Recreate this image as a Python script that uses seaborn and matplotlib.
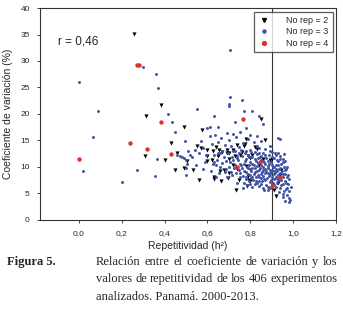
import numpy as np
import pandas as pd
import seaborn as sns
from matplotlib import pyplot as plt
from matplotlib.ticker import FuncFormatter
from matplotlib.lines import Line2D

#===== DATA =====================================
# Repetitividad (h2), Coeficiente de variacion (%)
rep2 = [(0.256, 35.1), (0.385, 21.6), (0.315, 19.6), (0.31, 12.0), (0.40, 11.3),
        (0.43, 14.4), (0.457, 12.6), (0.45, 9.4), (0.49, 17.6), (0.49, 9.7),
        (0.507, 11.0), (0.535, 9.3), (0.55, 13.9), (0.56, 7.5), (0.57, 13.5),
        (0.575, 16.9), (0.60, 13.2), (0.60, 12.1), (0.60, 11.0), (0.62, 11.2),
        (0.625, 13.0), (0.63, 8.0), (0.63, 7.7), (0.64, 13.8), (0.65, 12.0),
        (0.655, 13.2), (0.66, 9.1), (0.665, 7.3), (0.67, 12.7), (0.675, 9.3),
        (0.69, 13.2), (0.69, 12.6), (0.695, 7.9), (0.70, 12.6), (0.70, 11.5),
        (0.70, 8.9), (0.72, 13.2), (0.72, 10.3), (0.73, 12.1), (0.735, 5.6),
        (0.74, 14.1), (0.74, 9.6), (0.745, 7.5), (0.75, 12.2), (0.76, 12.7),
        (0.77, 13.9), (0.775, 14.2), (0.78, 15.3), (0.78, 10.2), (0.79, 8.2),
        (0.79, 12.0), (0.795, 7.4), (0.80, 7.2), (0.80, 11.6), (0.785, 6.3),
        (0.81, 12.2), (0.82, 13.7), (0.83, 13.3), (0.84, 10.3), (0.85, 19.0),
        (0.86, 11.4), (0.87, 15.1), (0.89, 11.3), (0.90, 11.5), (0.91, 5.5),
        (0.92, 4.4), (0.93, 6.9), (0.94, 8.4), (0.945, 9.4)]

rep3 = [(0.00, 26.1), (0.018, 9.1), (0.068, 15.6), (0.09, 20.5), (0.20, 7.1),
        (0.27, 9.4), (0.30, 28.8), (0.36, 27.6), (0.37, 24.8), (0.357, 8.2),
        (0.364, 11.4), (0.417, 19.9), (0.434, 18.4), (0.45, 16.5), (0.496, 14.9),
        (0.46, 12.2), (0.47, 12.0), (0.48, 11.8), (0.49, 11.6), (0.50, 11.2),
        (0.505, 10.6), (0.50, 9.8), (0.50, 8.4), (0.51, 12.9), (0.52, 12.3),
        (0.53, 11.8), (0.54, 13.2), (0.545, 10.4), (0.55, 21.0), (0.56, 12.6),
        (0.57, 14.8), (0.58, 13.6), (0.58, 9.6), (0.59, 10.9), (0.595, 12.2),
        (0.60, 17.3), (0.61, 17.6), (0.61, 15.8), (0.615, 9.1), (0.62, 14.3),
        (0.625, 10.5), (0.63, 19.6), (0.63, 12.2), (0.635, 16.0), (0.64, 10.3),
        (0.645, 11.3), (0.65, 17.5), (0.65, 14.6), (0.655, 8.9), (0.66, 12.6),
        (0.665, 15.4), (0.67, 10.7), (0.675, 11.8), (0.68, 14.1), (0.685, 9.6),
        (0.69, 16.4), (0.70, 21.9), (0.70, 21.4), (0.705, 23.2), (0.705, 32.0),
        (0.70, 15.0), (0.705, 10.9), (0.71, 13.9), (0.715, 8.4), (0.72, 16.2),
        (0.72, 11.2), (0.725, 9.8), (0.73, 18.4), (0.73, 12.9), (0.735, 15.7),
        (0.74, 7.0), (0.74, 11.6), (0.745, 13.7), (0.75, 16.5), (0.75, 8.8),
        (0.755, 10.4), (0.76, 22.7), (0.76, 12.0), (0.765, 14.5), (0.765, 6.0),
        (0.77, 20.5), (0.77, 9.2), (0.775, 11.1), (0.78, 17.4), (0.78, 13.0),
        (0.78, 7.6), (0.785, 10.0), (0.79, 15.2), (0.79, 8.6), (0.795, 11.8),
        (0.80, 16.0), (0.80, 9.5), (0.80, 6.7), (0.805, 12.8), (0.81, 20.5),
        (0.81, 10.6), (0.81, 8.0), (0.815, 14.6), (0.82, 9.0), (0.82, 11.4),
        (0.825, 7.2), (0.83, 15.8), (0.83, 10.1), (0.83, 12.4), (0.835, 8.5),
        (0.84, 19.6), (0.84, 13.5), (0.84, 9.4), (0.84, 6.4), (0.845, 11.8),
        (0.85, 7.8), (0.85, 10.4), (0.85, 14.8), (0.855, 9.0), (0.86, 18.0),
        (0.86, 12.6), (0.86, 8.3), (0.86, 6.0), (0.865, 10.9), (0.87, 9.6),
        (0.87, 7.4), (0.87, 13.4), (0.875, 11.6), (0.88, 8.8), (0.88, 10.2),
        (0.88, 5.6), (0.885, 12.2), (0.89, 7.1), (0.89, 9.3), (0.89, 14.0),
        (0.895, 10.8), (0.90, 8.1), (0.90, 12.8), (0.90, 6.8), (0.905, 9.9),
        (0.91, 11.6), (0.91, 7.6), (0.915, 8.8), (0.92, 12.3), (0.92, 10.4),
        (0.92, 6.2), (0.925, 9.2), (0.93, 15.5), (0.93, 11.0), (0.93, 7.4),
        (0.935, 5.2), (0.94, 15.3), (0.94, 9.8), (0.94, 12.0), (0.945, 6.6),
        (0.95, 8.6), (0.95, 10.8), (0.95, 4.8), (0.955, 12.4), (0.96, 7.3),
        (0.96, 9.4), (0.965, 5.8), (0.97, 8.0), (0.97, 10.0), (0.975, 6.8),
        (0.98, 4.0), (0.98, 3.3), (0.985, 3.7), (0.99, 6.2), (0.95, 4.2),
        (0.96, 3.6),
        (0.76, 9.8), (0.765, 8.2), (0.77, 10.6), (0.772, 7.0), (0.775, 12.6),
        (0.778, 9.0), (0.78, 11.4), (0.782, 8.0), (0.785, 6.6), (0.788, 12.2),
        (0.79, 9.8), (0.792, 7.2), (0.795, 10.4), (0.798, 8.4), (0.80, 13.2),
        (0.80, 10.9), (0.802, 7.8), (0.805, 9.2), (0.808, 6.2), (0.81, 11.9),
        (0.81, 9.8), (0.812, 7.4), (0.815, 10.3), (0.818, 8.6), (0.82, 12.8),
        (0.82, 6.8), (0.822, 9.8), (0.825, 11.0), (0.826, 8.0), (0.83, 9.1),
        (0.83, 7.0), (0.832, 13.9), (0.835, 10.7), (0.838, 11.6), (0.84, 8.0),
        (0.84, 7.2), (0.842, 12.6), (0.845, 9.8), (0.848, 6.8), (0.85, 11.2),
        (0.85, 8.6), (0.852, 12.0), (0.855, 7.2), (0.858, 10.0), (0.86, 9.4),
        (0.86, 11.0), (0.862, 7.7), (0.865, 5.6), (0.868, 8.8), (0.87, 10.5),
        (0.87, 12.2), (0.872, 6.6), (0.875, 9.2), (0.878, 7.9), (0.88, 11.1),
        (0.88, 9.7), (0.882, 6.2), (0.885, 8.3), (0.888, 10.6), (0.89, 12.9),
        (0.89, 8.6), (0.892, 6.0), (0.895, 9.0), (0.898, 7.5), (0.90, 10.4),
        (0.90, 9.3), (0.902, 11.9), (0.905, 7.0), (0.908, 8.6), (0.91, 10.0),
        (0.91, 9.1), (0.912, 6.5), (0.915, 12.5), (0.918, 7.9), (0.92, 9.6),
        (0.92, 8.1), (0.922, 11.3), (0.925, 6.9), (0.928, 10.3), (0.93, 8.4),
        (0.93, 12.6), (0.932, 9.6), (0.935, 7.8), (0.938, 11.5), (0.94, 8.9),
        (0.94, 6.0), (0.942, 10.6), (0.945, 7.5), (0.948, 9.2), (0.95, 11.5),
        (0.95, 6.8), (0.952, 8.0), (0.955, 9.9), (0.958, 5.4), (0.96, 11.0),
        (0.962, 8.6), (0.965, 7.0), (0.968, 9.5), (0.97, 6.0), (0.972, 4.6),
        (0.975, 8.4), (0.978, 5.4), (0.98, 7.6), (0.742, 11.2), (0.745, 9.3),
        (0.748, 12.5), (0.75, 10.6), (0.752, 8.0), (0.755, 13.1), (0.73, 10.4),
        (0.735, 8.8), (0.738, 12.0), (0.72, 13.0), (0.715, 11.8), (0.71, 9.0),
        (0.70, 10.0), (0.695, 12.6), (0.69, 8.0), (0.685, 11.0), (0.68, 9.0),
        (0.67, 13.0), (0.66, 10.0), (0.65, 12.6), (0.64, 8.0), (0.63, 10.9)]

rep4 = [(0.0, 11.5), (0.24, 14.4), (0.27, 29.3), (0.28, 29.2), (0.32, 13.4),
        (0.385, 18.5), (0.43, 12.4), (0.765, 19.0), (0.74, 10.0), (0.845, 10.9),
        (0.90, 6.4), (0.94, 8.0)]

labels = ["No rep = 2", "No rep = 3", "No rep = 4"]
x_ticks = [0.0, 0.2, 0.4, 0.6, 0.8, 1.0, 1.2]
y_ticks = [0, 5, 10, 15, 20, 25, 30, 35, 40]
caption_lines = ["Relación entre el coeficiente de variación y los",
                 "valores de repetitividad de los 406 experimentos",
                 "analizados. Panamá. 2000-2013."]

#===== BUILD TABLE =====================================
frames = []
for lab, pts in zip(labels, [rep2, rep3, rep4]):
    d = pd.DataFrame(pts, columns=["h2", "cv"])
    d["grupo"] = lab
    frames.append(d)
df = pd.concat(frames, ignore_index=True)

#===== PLOT =====================================
sns.set_style("ticks")
plt.rcParams["font.family"] = ["Liberation Sans", "DejaVu Sans"]

fig = plt.figure(figsize=(3.43, 3.11), dpi=100)
ax = fig.add_axes([0.117, 0.294, 0.863, 0.680])

colors = {"No rep = 2": "#000000", "No rep = 3": "#3f51a3", "No rep = 4": "#e0302c"}
markers = {"No rep = 2": "v", "No rep = 3": "o", "No rep = 4": "o"}
sizes = {"No rep = 2": 9, "No rep = 3": 4.5, "No rep = 4": 10}

for lab in labels:
    sub = df[df["grupo"] == lab]
    sns.scatterplot(data=sub, x="h2", y="cv", color=colors[lab], marker=markers[lab],
                    s=sizes[lab], linewidth=0, ax=ax, legend=False, zorder=3)

ax.axvline(0.9, color="#333333", linewidth=0.8, zorder=2)

ax.set_xlim(-0.18, 1.2)
ax.set_ylim(0, 40)
ax.set_xticks(x_ticks)
ax.set_yticks(y_ticks)
ax.xaxis.set_major_formatter(FuncFormatter(lambda v, p: f"{v:.1f}".replace(".", ",")))
ax.tick_params(axis="both", labelsize=6, length=2.5, width=0.6, direction="out", pad=5)
for sp in ax.spines.values():
    sp.set_linewidth(0.8)
    sp.set_color("#333333")

ax.set_xlabel("Repetitividad (h²)", fontsize=7.5, labelpad=3)
ax.set_ylabel("Coeficiente de variación (%)", fontsize=7.5, labelpad=5)

ax.text(-0.095, 33.6, "r = 0,46", fontsize=8.5, va="center", ha="left")

handles = [Line2D([], [], linestyle="", marker=markers[l], color=colors[l],
                  markersize=2.2 if l == "No rep = 3" else 2.8) for l in labels]
leg = ax.legend(handles, labels, loc="upper right", fontsize=6.5, frameon=True,
                fancybox=False, borderpad=0.5, handletextpad=1.8, labelspacing=0.25,
                handlelength=1.2, borderaxespad=0.4)
leg.get_frame().set_edgecolor("#333333")
leg.get_frame().set_linewidth(0.9)

# caption, first lines justified between x0 and x1 (figure fraction)
cap_size = 9
fig.text(0.02, 0.158, "Figura 5.", fontsize=cap_size, fontweight="bold",
         family="Liberation Serif", va="center")
renderer = fig.canvas.get_renderer()
x0, x1 = 0.280, 0.983
fig_w = fig.bbox.width
line_y = [0.158, 0.103, 0.046]
for i, line in enumerate(caption_lines):
    y = line_y[i]
    if i == len(caption_lines) - 1:
        fig.text(x0, y, line, fontsize=cap_size, family="Liberation Serif", va="center")
        continue
    words = line.split(" ")
    arts = [fig.text(0, y, w, fontsize=cap_size, family="Liberation Serif", va="center")
            for w in words]
    widths = [a.get_window_extent(renderer).width / fig_w for a in arts]
    gap = (x1 - x0 - sum(widths)) / (len(words) - 1)
    pos = x0
    for a, w in zip(arts, widths):
        a.set_x(pos)
        pos += w + gap

fig.savefig("out.png", dpi=100)
